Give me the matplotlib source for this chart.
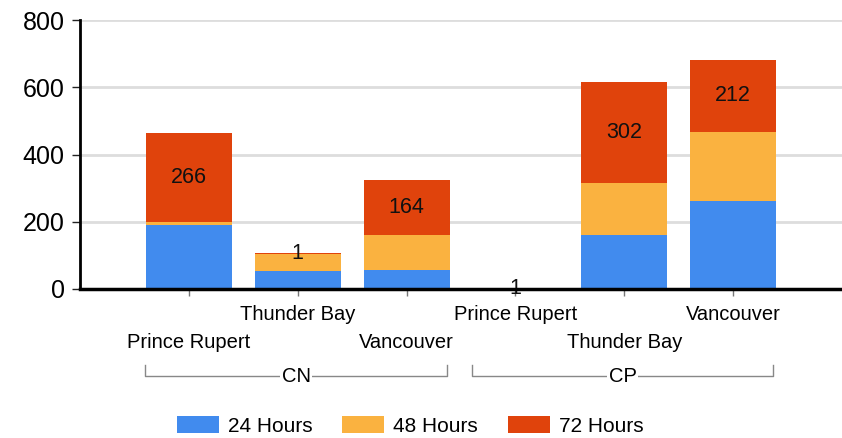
import matplotlib
matplotlib.use("Agg")
import matplotlib.pyplot as plt
from matplotlib.patches import Patch
from matplotlib import transforms

plt.rcParams['font.family'] = ['Liberation Sans', 'DejaVu Sans']

groups = ["CN", "CN", "CN", "CP", "CP", "CP"]
ports = ["Prince Rupert", "Thunder Bay", "Vancouver", "Prince Rupert", "Thunder Bay", "Vancouver"]
h24 = [190, 53, 57, 0, 160, 262]
h48 = [8, 52, 103, 0, 155, 206]
h72 = [266, 1, 164, 1, 302, 212]
series_names = ["24 Hours", "48 Hours", "72 Hours"]
colors = ["#418BEE", "#FAB240", "#E0430C"]
yticks = [0, 200, 400, 600, 800]

fig = plt.figure(figsize=(8.42, 4.38), dpi=100)
ax = fig.add_axes([80/842, 1-289/438, (842-80)/842, (289-20)/438])

x = list(range(len(ports)))
w = 0.79
ax.bar(x, h24, w, color=colors[0], zorder=3)
ax.bar(x, h48, w, bottom=h24, color=colors[1], zorder=3)
bot3 = [a + b for a, b in zip(h24, h48)]
ax.bar(x, h72, w, bottom=bot3, color=colors[2], zorder=3)

for xi, b, v in zip(x, bot3, h72):
    ax.text(xi, b + v / 2, str(v), ha='center', va='center', fontsize=15.5, color='#111111', zorder=5)

ax.set_xlim(-1, 6)
ax.set_ylim(0, 800)
ax.set_yticks(yticks)
ax.set_yticklabels([str(t) for t in yticks], fontsize=18)
ax.tick_params(axis='y', length=6, width=1, color='#222222', pad=5)
ax.grid(axis='y', color='#DDDDDD', linewidth=2, zorder=0)
ax.set_xticks(x)
ax.set_xticklabels([])
ax.tick_params(axis='x', length=5, color='#777777', width=1)
for s in ['top', 'right']:
    ax.spines[s].set_visible(False)
ax.spines['left'].set_linewidth(2)
ax.spines['bottom'].set_linewidth(2.5)
ax.spines['bottom'].set_zorder(6)

trans = transforms.blended_transform_factory(ax.transData, fig.transFigure)
for i, p in enumerate(ports):
    yy = 1 - 315/438 if i % 2 == 1 else 1 - 343/438
    ax.text(i, yy, p, ha='center', va='center', fontsize=14.5, transform=trans, clip_on=False)

ybr = 1 - 376/438
ytop = 1 - 365/438
for g, (s, e) in [("CN", (0, 2)), ("CP", (3, 5))]:
    x0, x1 = s - 0.4, e + 0.37
    ax.plot([x0, x0, x1, x1], [ytop, ybr, ybr, ytop], color='#888888', lw=1,
            transform=trans, clip_on=False)
    ax.text((x0 + x1) / 2, ybr, g, ha='center', va='center', fontsize=14.5, transform=trans,
            bbox=dict(facecolor='white', edgecolor='none', pad=1), clip_on=False)

handles = [Patch(facecolor=c, edgecolor='none') for c in colors]
fig.legend(handles, series_names, loc='center', bbox_to_anchor=(0.487, 1 - 426/438), ncol=3,
           frameon=False, fontsize=15, handlelength=2.0, handleheight=0.87,
           handletextpad=0.43, columnspacing=1.45)

fig.savefig("out.png", dpi=100)
